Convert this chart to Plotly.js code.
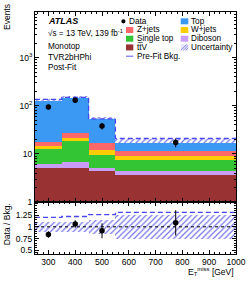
<!DOCTYPE html>
<html>
<head>
<meta charset="utf-8">
<script src="https://cdn.plot.ly/plotly-3.0.1.min.js"></script>
<style>html,body{margin:0;padding:0;background:#fff;}#chart{width:249px;height:281px;}</style>
</head>
<body>
<div id="chart"></div>
<script>
// ---- data ----
var binEdges = [250, 350, 450, 550, 1000];
var binCenters = [300, 400, 500, 775];
var ttV = [5.1, 5.2, 4.4, 3.7];
var diboson = [1.1, 1.5, 0.7, 0.7];
var singleTop = [6.5, 11.4, 4.3, 3.0];
var wjets = [1.8, 3.1, 2.5, 1.6];
var zjets = [3.0, 5.4, 4.6, 2.5];
var topQuark = [110, 120, 35.5, 5.0];
var dataY = [94, 131, 38, 17.3];
var dataErr = [10, 11, 6, 3.6];
var prefitMain = [136, 150, 53.6, 20.9];
var uncLo = [0.88, 0.88, 0.84, 0.74];
var uncHi = [1.11, 1.11, 1.15, 1.26];
var ratio = [0.835, 1.06, 0.915, 1.085];
var ratioErr = [0.07, 0.08, 0.16, 0.27];
var prefitRatio = [1.2, 1.22, 1.26, 1.31];
var xTickVals = [300, 400, 500, 600, 700, 800, 900, 1000];
var yTickVals = [1, 10, 100, 1000];
var yTickText = ['1', '10', '10<sup>2</sup>', '10<sup>3</sup>'];
var rTickVals = [0.5, 0.75, 1, 1.25];
var rTickText = ['0.5', '0.75', '1', '1.25'];

var colors = {
  top: '#3b99f4', zjets: '#ff6868', wjets: '#ffcc00', single: '#33c533',
  diboson: '#c99cf8', ttV: '#993333', prefit: '#4646f2', hatch: '#7474e8'
};

// ---- derived ----
var widths = binEdges.slice(1).map(function (e, i) { return e - binEdges[i]; });
var mids = binEdges.slice(1).map(function (e, i) { return (e + binEdges[i]) / 2; });
var comps = [ttV, diboson, singleTop, wjets, zjets, topQuark];
var cum = [];
var run = [0, 0, 0, 0];
comps.forEach(function (c) { run = run.map(function (v, i) { return v + c[i]; }); cum.push(run.slice()); });
var total = cum[cum.length - 1];
var bandBase = total.map(function (t, i) { return t * uncLo[i]; });
var bandH = total.map(function (t, i) { return t * (uncHi[i] - uncLo[i]); });
function stepY(v) { return v.concat([v[v.length - 1]]); }

var traces = [];
// main uncertainty band (behind stack)
traces.push({type: 'bar', x: mids, width: widths, base: bandBase, y: bandH, xaxis: 'x', yaxis: 'y',
  marker: {color: 'rgba(0,0,0,0)', line: {width: 0},
    pattern: {shape: '/', fgcolor: colors.hatch, bgcolor: 'rgba(0,0,0,0)', size: 4, solidity: 0.3}},
  showlegend: false, hoverinfo: 'skip'});
// stack drawn as overlay of cumulative heights (top first)
var stackCols = [colors.ttV, colors.diboson, colors.single, colors.wjets, colors.zjets, colors.top];
for (var k = cum.length - 1; k >= 0; k--) {
  traces.push({type: 'bar', x: mids, width: widths, y: cum[k], xaxis: 'x', yaxis: 'y',
    marker: {color: stackCols[k], line: {width: 0}}, showlegend: false, hoverinfo: 'skip'});
}
// prefit dashed
traces.push({type: 'scatter', mode: 'lines', x: binEdges, y: stepY(prefitMain), line: {shape: 'hv', color: colors.prefit, width: 1.3, dash: '5px,3px'},
  xaxis: 'x', yaxis: 'y', showlegend: false, hoverinfo: 'skip'});
// data
traces.push({type: 'scatter', mode: 'markers', x: binCenters, y: dataY,
  error_y: {type: 'data', array: dataErr, color: '#000', thickness: 1, width: 0},
  marker: {color: '#000', size: 5.5}, xaxis: 'x', yaxis: 'y', showlegend: false, hoverinfo: 'skip'});

// ratio band
traces.push({type: 'bar', x: mids, width: widths, base: uncLo, y: uncHi.map(function (h, i) { return h - uncLo[i]; }), xaxis: 'x2', yaxis: 'y2',
  marker: {color: 'rgba(0,0,0,0)', line: {width: 0},
    pattern: {shape: '/', fgcolor: colors.hatch, bgcolor: 'rgba(0,0,0,0)', size: 4, solidity: 0.3}},
  showlegend: false, hoverinfo: 'skip'});
traces.push({type: 'scatter', mode: 'lines', x: [binEdges[0], binEdges[binEdges.length - 1]], y: [1, 1],
  line: {color: '#000', width: 1, dash: 'dot'}, xaxis: 'x2', yaxis: 'y2', showlegend: false, hoverinfo: 'skip'});
traces.push({type: 'scatter', mode: 'lines', x: binEdges, y: stepY(prefitRatio), line: {shape: 'hv', color: colors.prefit, width: 1.3, dash: '5px,3px'},
  xaxis: 'x2', yaxis: 'y2', showlegend: false, hoverinfo: 'skip'});
traces.push({type: 'scatter', mode: 'markers', x: binCenters, y: ratio,
  error_y: {type: 'data', array: ratioErr, color: '#000', thickness: 1, width: 0},
  marker: {color: '#000', size: 5.5}, xaxis: 'x2', yaxis: 'y2', showlegend: false, hoverinfo: 'skip'});

// minor tick positions for log axis
var logMinor = [];
[1, 10, 100, 1000].forEach(function (d) { for (var m = 2; m <= 9; m++) logMinor.push(d * m); });

var FONT = 'Liberation Sans, Arial, sans-serif';
var axCommon = {showline: true, linecolor: '#000', linewidth: 1, mirror: 'allticks', ticks: 'inside',
  tickcolor: '#000', ticklen: 4, showgrid: false, zeroline: false, tickfont: {size: 8.5, color: '#000', family: FONT}};
function merge(a, b) { var o = {}; for (var k in a) o[k] = a[k]; for (var j in b) o[j] = b[j]; return o; }

// legend & text (paper coords)
var H = 242, L = 35, W = 201, T = 12;
function px(x) { return (x - L) / W; }
function py(y) { return (T + H - y) / H; }
var ann = [];
var shapes = [];
function txt(x, y, s, size, opts) {
  ann.push(merge({xref: 'paper', yref: 'paper', x: px(x), y: py(y), text: s, showarrow: false,
    xanchor: 'left', yanchor: 'middle', font: {size: size || 8.5, color: '#000', family: FONT}}, opts || {}));
}
txt(45.5, 21.3, '<b><i>ATLAS</i></b>', 9);
txt(45.5, 33.3, '√s = 13 TeV, 139 fb<sup>-1</sup>', 8.2);
txt(45.5, 46.3, 'Monotop', 8.2);
txt(45.5, 57.5, 'TVR2bHPhi', 8.2);
txt(45.5, 67.3, 'Post-Fit', 8.2);

var LF = 8.2;
var rowY = [21.3, 30, 38.7, 47.4, 56.3];
// column 1
shapes.push({type: 'circle', xref: 'paper', yref: 'paper', x0: px(121.3), x1: px(125.5), y0: py(rowY[0] + 2.1), y1: py(rowY[0] - 2.1), fillcolor: '#000', line: {width: 0}});
txt(127.3, rowY[0], 'Data', LF);
function swatch(x0, x1, y, col) {
  shapes.push({type: 'rect', xref: 'paper', yref: 'paper', x0: px(x0), x1: px(x1), y0: py(y + 3), y1: py(y - 3), fillcolor: col, line: {width: 0}});
}
swatch(126, 133.3, rowY[1], colors.zjets); txt(134.7, rowY[1], 'Z+jets', LF);
swatch(126, 133.3, rowY[2], colors.single); txt(134.7, rowY[2], 'Single top', LF);
swatch(126, 133.3, rowY[3], colors.ttV); txt(134.7, rowY[3], 'tt\u0305V', LF);
shapes.push({type: 'line', xref: 'paper', yref: 'paper', x0: px(126), x1: px(133.3), y0: py(rowY[4]), y1: py(rowY[4]), line: {color: '#8c8cf5', width: 1.5}});
txt(134.7, rowY[4], 'Pre-Fit Bkg.', LF);
// column 2
swatch(180.7, 188.3, rowY[0], colors.top); txt(189.3, rowY[0], 'Top', LF);
swatch(180.7, 188.3, rowY[1], colors.wjets); txt(189.3, rowY[1], 'W+jets', LF);
swatch(180.7, 188.3, rowY[2], colors.diboson); txt(189.3, rowY[2], 'Diboson', LF);
swatch(180.7, 188.3, rowY[3], '#e4e4fa');
[0, 2.5, 5].forEach(function (o) {
  var xa = 180.7 + o, xb = Math.min(188.3, xa + 6);
  shapes.push({type: 'line', xref: 'paper', yref: 'paper', x0: px(xa), x1: px(xb), y0: py(rowY[3] + 3), y1: py(rowY[3] + 3 - (xb - xa)), line: {color: colors.hatch, width: 0.8}});
});
txt(189.3, rowY[3], 'Uncertainty', LF);

// axis titles
ann.push({xref: 'paper', yref: 'paper', x: px(7), y: py(2), text: 'Events', textangle: -90, showarrow: false,
  xanchor: 'center', yanchor: 'top', font: {size: 8.5, color: '#000', family: FONT}});
ann.push({xref: 'paper', yref: 'paper', x: px(7), y: py(224.3), text: 'Data / Bkg.', textangle: -90, showarrow: false,
  xanchor: 'center', yanchor: 'middle', font: {size: 8.5, color: '#000', family: FONT}});
ann.push({xref: 'paper', yref: 'paper', x: 1, y: py(271), text: 'E<sub>T</sub><sup>miss</sup> [GeV]', showarrow: false,
  xanchor: 'right', yanchor: 'middle', font: {size: 8.5, color: '#000', family: FONT}});

var layout = {
  width: 249, height: 281, margin: {l: L, r: 249 - L - W, t: T, b: 281 - T - H, pad: 0},
  paper_bgcolor: '#fff', plot_bgcolor: '#fff', barmode: 'overlay', bargap: 0, showlegend: false,
  font: {family: FONT, size: 8.5, color: '#000'},
  xaxis: merge(axCommon, {anchor: 'y', range: [250, 1000], tickvals: xTickVals, showticklabels: false, matches: 'x2',
    minor: {ticks: 'inside', ticklen: 2, dtick: 20, tickcolor: '#000', showgrid: false}}),
  xaxis2: merge(axCommon, {anchor: 'y2', range: [250, 1000], tickvals: xTickVals,
    minor: {ticks: 'inside', ticklen: 2, dtick: 20, tickcolor: '#000', showgrid: false}}),
  yaxis: merge(axCommon, {anchor: 'x', domain: [0.215, 1], type: 'log', range: [0, 3.95], tickvals: yTickVals, ticktext: yTickText,
    minor: {ticks: 'inside', ticklen: 2, tickvals: logMinor, tickcolor: '#000', showgrid: false}}),
  yaxis2: merge(axCommon, {anchor: 'x2', domain: [0, 0.215], range: [0.42, 1.53], tickvals: rTickVals, ticktext: rTickText,
    minor: {ticks: 'inside', ticklen: 2, dtick: 0.05, tickcolor: '#000', showgrid: false}}),
  annotations: ann, shapes: shapes
};
Plotly.newPlot('chart', traces, layout, {staticPlot: true, displayModeBar: false});
</script>
</body>
</html>
